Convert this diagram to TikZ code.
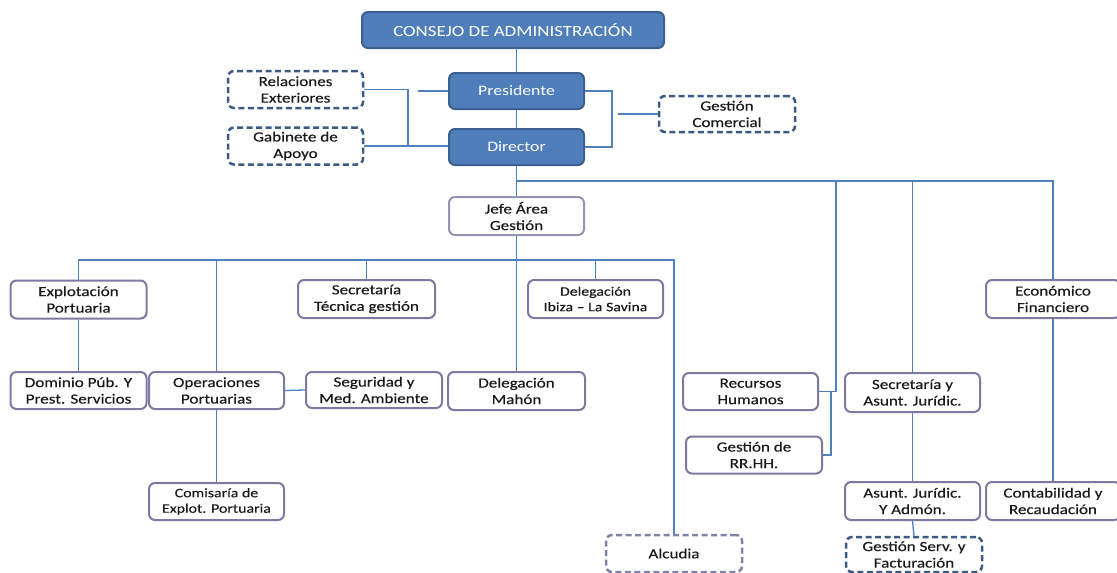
\documentclass[tikz,border=0pt]{standalone}
\usepackage{fontspec}
\setmainfont[FakeStretch=1.22,FakeBold=0.35]{Carlito}
\newfontfamily\lightfont[FakeStretch=1.22]{Carlito}
\definecolor{bfill}{HTML}{4F7EBA}
\definecolor{bdraw}{HTML}{3A5F90}
\definecolor{ddraw}{HTML}{3C5A82}
\definecolor{sdraw}{HTML}{7D7AA2}
\definecolor{adraw}{HTML}{8083A8}
\definecolor{conn}{HTML}{4F81BD}
\definecolor{txt}{HTML}{1A1A1A}
\tikzset{
  base/.style={rounded corners=6pt, minimum width=135pt, minimum height=37pt, align=center, inner sep=0pt, font=\fontsize{14}{16.5}\selectfont},
  bluebox/.style={base, fill=bfill, draw=bdraw, line width=2pt, text=white, font=\lightfont\fontsize{14.5}{16.5}\selectfont},
  wbox/.style={base, fill=white, draw=sdraw, line width=2pt, text=txt},
  dbox/.style={base, fill=white, draw=ddraw, line width=2.5pt, dash pattern=on 6pt off 3.5pt, text=txt},
  cline/.style={draw=conn, line width=1.3pt}
}
\begin{document}
\begin{tikzpicture}[x=1pt,y=-1pt]
\useasboundingbox (0,0) rectangle (1117,573);
% top
\node[bluebox, minimum width=302pt, minimum height=36pt, font=\lightfont\fontsize{15.5}{18}\selectfont] (consejo) at (513,30) {CONSEJO DE ADMINISTRACIÓN};
\node[bluebox, minimum height=36pt] (pres) at (516.5,91) {Presidente};
\node[bluebox, minimum height=36pt] (dir) at (516.5,147) {Director};
\node[dbox] (rel) at (295.5,89.5) {Relaciones\\Exteriores};
\node[dbox] (gab) at (295.5,146) {Gabinete de\\Apoyo};
\node[dbox, minimum width=136pt, minimum height=36pt] (gcom) at (727,114) {Gestión\\Comercial};
\node[wbox, minimum height=38pt, draw=sdraw!80] (jefe) at (516.5,216) {Jefe Área\\Gestión};
% second row
\node[wbox, minimum width=136pt, minimum height=38pt] (expl) at (78.5,299.5) {Explotación\\Portuaria};
\node[wbox, minimum width=137pt, minimum height=38pt] (sect) at (366.5,299) {Secretaría\\Técnica gestión};
\node[wbox, minimum height=38pt, font=\fontsize{13}{15.5}\selectfont] (ibiza) at (595.5,299) {Delegación\\Ibiza – La Savina};
\node[wbox, minimum width=134pt, minimum height=38pt] (econ) at (1053,299) {Económico\\Financiero};
% third row
\node[wbox, minimum width=136pt] (dom) at (78.5,390.5) {Dominio Púb. Y\\Prest. Servicios};
\node[wbox] (oper) at (216.5,390.5) {Operaciones\\Portuarias};
\node[wbox, minimum width=136pt, minimum height=36pt] (segu) at (374,390) {Seguridad y\\Med. Ambiente};
\node[wbox, minimum width=137pt, minimum height=38pt] (mahon) at (516.5,391) {Delegación\\Mahón};
\node[wbox] (rrhh) at (750.5,391.5) {Recursos\\Humanos};
\node[wbox, minimum width=136pt] (grrhh) at (754,455) {Gestión de\\RR.HH.};
\node[wbox, minimum height=39pt] (secj) at (912.5,392.5) {Secretaría y\\Asunt. Jurídic.};
% bottom rows
\node[wbox, font=\fontsize{13}{15.5}\selectfont] (comis) at (216.5,501.5) {Comisaría de\\Explot. Portuaria};
\node[wbox, minimum height=38pt] (asunt) at (912.5,501) {Asunt. Jurídic.\\Y Admón.};
\node[wbox, minimum width=134pt, minimum height=38pt] (conta) at (1053,501) {Contabilidad y\\Recaudación};
\node[dbox, draw=adraw, minimum width=136pt] (alcudia) at (674,553.5) {Alcudia};
\node[dbox, minimum width=136pt, minimum height=35pt] (gserv) at (914,554.5) {Gestión Serv. y\\Facturación};
% coordinates
\coordinate (lv) at (408,90);
\coordinate (pstub) at (418,91);
\coordinate (rv) at (612,91);
\coordinate (gstub) at (618,114);
\coordinate (b1) at (516.5,181);
\coordinate (rrv) at (836,181);
\coordinate (brk) at (831,391.5);
\coordinate (b2) at (516.5,260);
% connectors top
\draw[cline] (pres.north) -- (pres.north |- consejo.south);
\draw[cline] (pres.south) -- (dir.north);
\draw[cline] (dir.south) -- (jefe.north);
\draw[cline] (rel.east) -| (lv |- gab.east);
\draw[cline] (gab.east) -- (gab.east -| dir.west);
\draw[cline] (pstub) -- (pres.west);
\draw[cline] (pres.east) -| (rv |- dir.east) -- (dir.east);
\draw[cline] (gstub) -- (gcom.west);
% director bus
\draw[cline] (b1) -| (econ.north);
\draw[cline] (b1 -| secj.north) -- (secj.north);
\draw[cline] (rrv) |- (rrhh.east);
\draw[cline] (brk) |- (grrhh.east);
\draw[cline] (secj.south) -- (asunt.north);
\draw[cline] (asunt.south) -- (gserv.north);
\draw[cline] (econ.south) -- (conta.north);
% jefe bus
\draw[cline] (jefe.south) -- (mahon.north);
\draw[cline] (expl.north) |- (alcudia.north |- b2) -- (alcudia.north);
\draw[cline] (oper.north) -- (oper.north |- b2);
\draw[cline] (sect.north) -- (sect.north |- b2);
\draw[cline] (ibiza.north) -- (ibiza.north |- b2);
\draw[cline] (expl.south) -- (dom.north);
\draw[cline] (oper.east) -- (segu.west);
\draw[cline] (oper.south) -- (comis.north);
\end{tikzpicture}
\end{document}
